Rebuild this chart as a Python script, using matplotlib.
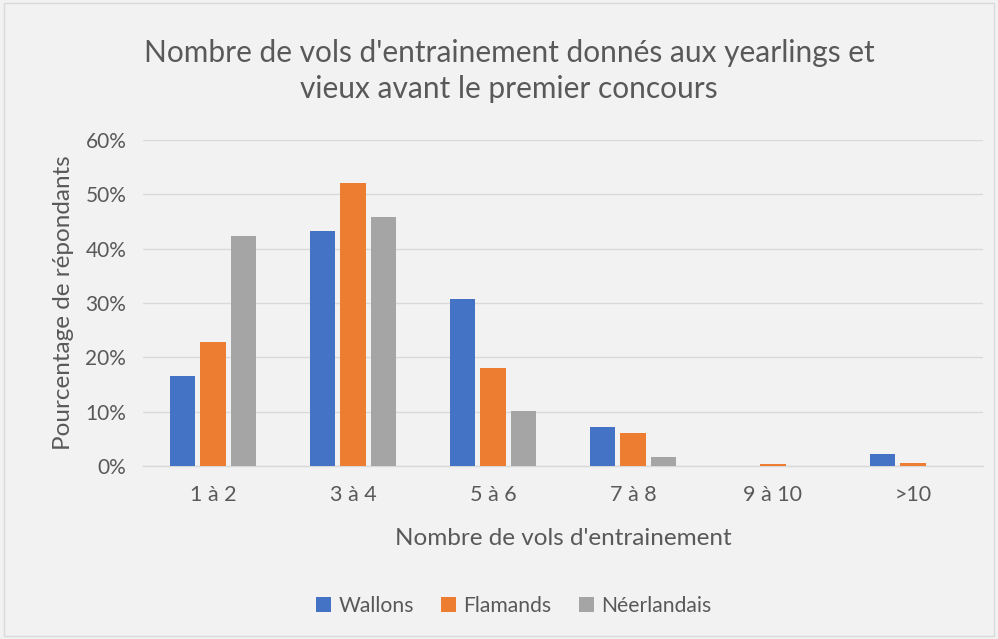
import matplotlib
matplotlib.use("Agg")
import matplotlib.pyplot as plt
import numpy as np
from matplotlib.patches import Rectangle

categories = ["1 à 2", "3 à 4", "5 à 6", "7 à 8", "9 à 10", ">10"]
wallons = [16.6, 43.3, 30.8, 7.1, 0.0, 2.3]
flamands = [22.8, 52.1, 18.0, 6.1, 0.3, 0.5]
neerlandais = [42.4, 45.9, 10.1, 1.7, 0.0, 0.0]
series_names = ["Wallons", "Flamands", "Néerlandais"]
colors = ["#4472C4", "#ED7D31", "#A5A5A5"]
yticks = [0, 10, 20, 30, 40, 50, 60]

plt.rcParams['font.family'] = ['Lato', 'DejaVu Sans']
txt = "#595959"
bg = "#F2F2F2"

fig = plt.figure(figsize=(9.98, 6.39), dpi=100, facecolor=bg)
ax = fig.add_axes([143/998, 1 - 466/639, (983-143)/998, (466-140)/639])
ax.set_facecolor(bg)

x = np.arange(len(categories))
w = 0.18
step = 0.22
for i, (vals, name, c) in enumerate(zip([wallons, flamands, neerlandais], series_names, colors)):
    ax.bar(x + (i - 1) * step, vals, width=w, color=c, label=name, zorder=3)

ax.set_xlim(-0.5, len(categories) - 0.5)
ax.set_ylim(0, 60)
ax.set_yticks(yticks)
ax.set_yticklabels([f"{t}%" for t in yticks], color=txt, fontsize=15)
ax.set_xticks(x)
ax.set_xticklabels(categories, color=txt, fontsize=15.5)
ax.tick_params(axis='both', length=0, pad=10)
ax.tick_params(axis='y', pad=12)
ax.tick_params(axis='x', pad=14)
ax.grid(axis='y', color="#D9D9D9", linewidth=1, zorder=0)
for s in ["top", "right", "left"]:
    ax.spines[s].set_visible(False)
ax.spines["bottom"].set_color("#D9D9D9")
ax.spines["bottom"].set_linewidth(1)

ax.set_xlabel("Nombre de vols d'entrainement", color=txt, fontsize=17.5, labelpad=16)
ax.set_ylabel("Pourcentage de répondants", color=txt, fontsize=17.5, labelpad=8)

fig.text(0.51, 1 - 71/639, "Nombre de vols d'entrainement donnés aux yearlings et\nvieux avant le premier concours",
         ha="center", va="center", color=txt, fontsize=21.5, linespacing=1.35)

fig.legend(loc="center", bbox_to_anchor=(0.515, 1 - 606/639), ncol=3, frameon=False,
           fontsize=15.2, labelcolor=txt, handlelength=0.7, handleheight=0.7,
           columnspacing=1.3, handletextpad=0.35)

fig.patches.append(Rectangle((0.004, 0.004), 0.992, 0.992, transform=fig.transFigure,
                             fill=False, edgecolor="#D9D9D9", linewidth=1))

fig.savefig("out.png", dpi=100, facecolor=bg)
